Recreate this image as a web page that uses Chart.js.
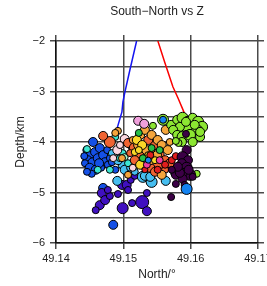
<!DOCTYPE html>
<html>
<head>
<meta charset="utf-8">
<script src="https://cdn.jsdelivr.net/npm/chart.js@4.4.1/dist/chart.umd.min.js"></script>
<style>
  html, body { margin: 0; padding: 0; background: #fff; overflow: hidden; }
</style>
</head>
<body>
<canvas id="myChart" width="267" height="286"></canvas>
<script>
// events: [north (deg), depth (km), magnitude]
var blueEv = [[49.1455,-4.00,2],[49.1445,-4.16,1.5],[49.1450,-4.26,2],[49.1458,-4.20,2],[49.1465,-4.12,2],
    [49.1447,-4.36,2],[49.1455,-4.42,2.5],[49.1462,-4.32,2],[49.1470,-4.26,2],[49.1473,-4.40,2],
    [49.1443,-4.42,1.5],[49.1450,-4.51,2],[49.1459,-4.55,2],[49.1467,-4.51,1.5],[49.1477,-4.45,1.5],
    [49.1453,-4.63,1.5],[49.1446,-4.59,1.5],[49.1480,-4.32,1.5],[49.1483,-4.40,1.5],[49.1476,-4.16,1.5],
    [49.1485,-5.64,2],[49.1470,-4.91,2],[49.1488,-4.55,1.5],[49.1442,-4.28,1.5],[49.1464,-4.42,2]];
var indigoEv = [[49.1468,-5.01,2],[49.1465,-5.25,2],[49.1473,-5.15,2],[49.1480,-5.07,1.5],[49.1492,-5.03,1.5],
    [49.1499,-5.31,2.5],[49.1513,-5.21,1.5],[49.1528,-5.19,3],[49.1535,-5.37,2],[49.1498,-4.85,2],
    [49.1505,-4.85,2],[49.1507,-4.95,1.5],[49.1535,-5.01,1.5],[49.1459,-5.35,1.5],[49.1477,-4.95,1.5],
    [49.1511,-4.75,1.5],[49.1517,-4.67,1.5]];
var skyEv = [[49.1491,-4.77,2],[49.1499,-4.45,2],[49.1529,-4.69,2.5],[49.1542,-4.79,2.5],[49.1563,-4.77,2],
    [49.1577,-4.61,2],[49.1532,-4.67,2],[49.1540,-4.69,2],[49.1502,-4.55,2],[49.1510,-4.51,1.5],
    [49.1492,-4.36,2],[49.1517,-4.59,1.5],[49.1483,-4.22,1.5]];
var cyanEv = [[49.1446,-4.14,1.5],[49.1462,-4.55,1.5],[49.1499,-4.22,1.5],[49.1513,-4.12,1.5],[49.1488,-3.90,1.5],
    [49.1495,-4.32,1.5],[49.1480,-4.55,1.5],[49.1507,-4.42,1.5]];
var mintEv = [[49.1502,-4.30,1.5],[49.1520,-4.36,1.5]];
var paleEv = [[49.1502,-3.94,2],[49.1491,-4.16,2],[49.1510,-4.06,1.5],[49.1522,-4.30,1.5],[49.1495,-4.06,1.5],
    [49.1514,-4.51,1.5],[49.1485,-4.32,1.5]];
var orangeEv = [[49.1480,-4.00,2.5],[49.1470,-3.88,2],[49.1507,-4.02,2],[49.1517,-4.12,2.5],[49.1525,-4.26,2],
    [49.1532,-4.36,2.5],[49.1540,-4.16,2],[49.1547,-4.06,2],[49.1537,-3.96,2],[49.1554,-4.26,2],
    [49.1551,-4.45,2.5],[49.1562,-4.36,2],[49.1540,-4.51,2],[49.1547,-4.59,2],[49.1529,-4.45,2],
    [49.1569,-4.42,2],[49.1562,-4.55,1.5],[49.1517,-4.36,2],[49.1510,-4.22,1.5]];
var amberEv = [[49.1492,-3.78,1.5],[49.1488,-3.82,1.5],[49.1525,-3.86,2],[49.1532,-3.76,2],[49.1542,-3.86,2],
    [49.1551,-3.96,2],[49.1557,-4.06,2],[49.1522,-4.06,2],[49.1514,-3.96,1.5],[49.1540,-4.36,2],
    [49.1550,-4.26,2],[49.1566,-4.16,2],[49.1534,-4.16,2],[49.1569,-4.00,1.5],[49.1557,-4.65,2],
    [49.1498,-4.32,1.5],[49.1507,-4.65,1.5],[49.1563,-3.76,2]];
var yellowEv = [[49.1520,-3.96,2],[49.1528,-4.06,2],[49.1525,-4.45,2],[49.1537,-4.26,1.5],[49.1517,-4.20,1.5],
    [49.1547,-4.36,1.5],[49.1523,-4.16,1.5]];
var redEv = [[49.1540,-4.26,1.5],[49.1551,-4.55,1.5],[49.1562,-4.45,1.5],[49.1572,-4.36,1.5],[49.1532,-4.55,1.25],
    [49.1578,-4.28,1.5]];
var greenEv = [[49.1523,-3.82,1.5],[49.1542,-4.12,1.5],[49.1554,-4.16,1.5],[49.1529,-4.32,1.5]];
var magentaEv = [[49.1554,-4.36,1.5],[49.1535,-4.45,1.5]];
var pinkEv = [[49.1522,-3.58,2],[49.1531,-3.64,2]];
var limeEv = [[49.1571,-3.66,2],[49.1580,-3.56,2],[49.1588,-3.52,2.5],[49.1596,-3.60,2.5],[49.1603,-3.52,2],
    [49.1611,-3.60,2.5],[49.1617,-3.70,2.5],[49.1609,-3.76,2.5],[49.1602,-3.76,2.5],[49.1594,-3.70,2.5],
    [49.1584,-3.70,2],[49.1574,-3.76,2],[49.1580,-3.86,2],[49.1588,-3.90,2.5],[49.1599,-3.86,2.5],
    [49.1603,-4.00,2],[49.1614,-3.90,2],[49.1587,-4.00,2],[49.1582,-4.02,1.5],[49.1544,-3.68,1.5],
    [49.1609,-4.63,1.5],[49.1593,-3.60,2],[49.1606,-3.66,2],[49.1578,-3.98,1.5],[49.1559,-3.56,2.5],
    [49.1614,-3.80,2]];
var plumEv = [[49.1594,-4.16,2],[49.1588,-4.30,2.5],[49.1596,-4.36,2],[49.1587,-4.42,2],[49.1594,-4.51,2.5],
    [49.1599,-4.65,2.5],[49.1578,-4.65,2],[49.1588,-4.61,2],[49.1603,-4.69,1.5],[49.1588,-4.73,2],
    [49.1584,-4.61,2],[49.1571,-5.09,1.5],[49.1597,-4.55,2],[49.1581,-4.49,2],[49.1572,-4.55,1.5],
    [49.1591,-4.85,1.5],[49.1578,-4.83,1.5],[49.1593,-3.84,1.5]];
var azureEv = [[49.1594,-4.93,2.5],[49.1559,-3.56,1.5],[49.1537,-4.36,1.25]];

// the two traces
var blueLineN = [49.15197, 49.15098, 49.15024, 49.14994, 49.14979, 49.14905];
var blueLineZ = [-2.0, -2.569, -3.006, -3.204, -3.403, -3.740];
var redLineN = [49.15513, 49.15617, 49.15736, 49.15810, 49.15899, 49.15929];
var redLineZ = [-2.0, -2.43, -2.907, -3.125, -3.403, -3.502];

var xTicks = [49.14, 49.15, 49.16, 49.17];
var yTicks = [-6, -5, -4, -3, -2];

var groups = [
    [blueEv, 'rgb(20,80,230)'],
    [indigoEv, 'rgb(64,16,192)'],
    [skyEv, 'rgb(70,190,240)'],
    [cyanEv, 'rgb(60,230,210)'],
    [mintEv, 'rgb(160,245,200)'],
    [paleEv, 'rgb(250,215,225)'],
    [orangeEv, 'rgb(240,100,50)'],
    [amberEv, 'rgb(245,165,60)'],
    [yellowEv, 'rgb(250,215,40)'],
    [redEv, 'rgb(225,30,30)'],
    [greenEv, 'rgb(40,190,70)'],
    [magentaEv, 'rgb(240,60,160)'],
    [pinkEv, 'rgb(240,160,220)'],
    [limeEv, 'rgb(140,230,50)'],
    [plumEv, 'rgb(60,0,70)'],
    [azureEv, 'rgb(20,130,240)']
];

function toPts(n, z) {
    var out = [];
    for (var i = 0; i < n.length; i++) out.push({x: n[i], y: z[i]});
    return out;
}

var datasets = [];
datasets.push({type: 'scatter', data: toPts(blueLineN, blueLineZ), showLine: true,
    borderColor: 'rgb(20,20,240)', borderWidth: 1.5, pointRadius: 0, fill: false, xAxisID: 'x', yAxisID: 'y'});
datasets.push({type: 'scatter', data: toPts(redLineN, redLineZ), showLine: true,
    borderColor: 'rgb(250,0,0)', borderWidth: 1.5, pointRadius: 0, fill: false, xAxisID: 'x', yAxisID: 'y'});
groups.forEach(function (g) {
    datasets.push({
        type: 'bubble',
        data: g[0].map(function (e) { return {x: e[0], y: e[1], r: e[2] * 2 + 0.5}; }),
        backgroundColor: g[1],
        borderColor: '#000',
        borderWidth: 1,
        xAxisID: 'x', yAxisID: 'y'
    });
});
// chart.js paints dataset 0 last, so flip to keep the list bottom-first
datasets.reverse();

var gridCol = '#4a4a4a';
var tickFont = {family: '"Liberation Sans", Arial, sans-serif', size: 11};

var titlePlugin = {
    id: 'topTitle',
    afterDraw: function (chart) {
        var ctx = chart.ctx, a = chart.chartArea;
        ctx.save();
        ctx.font = '12px "Liberation Sans", Arial, sans-serif';
        ctx.fillStyle = '#222';
        ctx.textAlign = 'center';
        ctx.textBaseline = 'middle';
        ctx.fillText('South\u2212North vs Z', (a.left + a.right) / 2, 12);
        ctx.restore();
    }
};

var ctx = document.getElementById('myChart').getContext('2d');
var chart = new Chart(ctx, {
    type: 'scatter',
    data: {datasets: datasets},
    plugins: [titlePlugin],
    options: {
        responsive: false,
        animation: false,
        devicePixelRatio: 1,
        layout: {padding: {left: 0, right: 3, top: 35, bottom: 0}},
        plugins: {legend: {display: false}, tooltip: {enabled: false}},
        scales: {
            x: {
                type: 'linear', position: 'bottom', min: 49.14, max: 49.17,
                afterBuildTicks: function (s) { s.ticks = xTicks.map(function (v) { return {value: v}; }); },
                afterFit: function (s) { s.height = 43; s.paddingLeft = 0; s.paddingRight = 0; },
                ticks: {font: tickFont, color: '#222', padding: 3, maxRotation: 0,
                    callback: function (v) { return v.toFixed(2); }},
                grid: {color: gridCol, lineWidth: 1.5, tickLength: 6},
                border: {color: '#111', width: 1.5},
                title: {display: true, text: 'North/\u00b0', color: '#222',
                    font: {family: '"Liberation Sans", Arial, sans-serif', size: 12}, padding: {top: 0, bottom: 4}}
            },
            x2: {
                type: 'linear', position: 'top', min: 49.14, max: 49.17,
                afterBuildTicks: function (s) { s.ticks = xTicks.map(function (v) { return {value: v}; }); },
                afterFit: function (s) { s.height = 6; s.paddingLeft = 0; s.paddingRight = 0; },
                ticks: {display: false},
                grid: {color: gridCol, lineWidth: 1.5, tickLength: 6, drawOnChartArea: false},
                border: {display: false}
            },
            y: {
                type: 'linear', position: 'left', min: -6, max: -2,
                ticks: {stepSize: 0.5, font: tickFont, color: '#222', padding: 5,
                    callback: function (v) {
                        if (yTicks.indexOf(v) < 0) return '';
                        return v < 0 ? '\u2212' + Math.abs(v) : String(v);
                    }},
                afterFit: function (s) { s.width = 56; s.paddingTop = 0; s.paddingBottom = 0; },
                grid: {color: gridCol, lineWidth: 1.5, tickLength: 6},
                border: {color: '#111', width: 1.5},
                title: {display: true, text: 'Depth/km', color: '#222',
                    font: {family: '"Liberation Sans", Arial, sans-serif', size: 12}, padding: {top: 13, bottom: 0}}
            },
            y2: {
                type: 'linear', position: 'right', min: -6, max: -2,
                ticks: {display: false, stepSize: 0.5},
                afterFit: function (s) { s.width = 6; s.paddingTop = 0; s.paddingBottom = 0; },
                grid: {color: gridCol, lineWidth: 1.5, tickLength: 6, drawOnChartArea: false},
                border: {display: false}
            }
        }
    }
});
</script>
</body>
</html>
